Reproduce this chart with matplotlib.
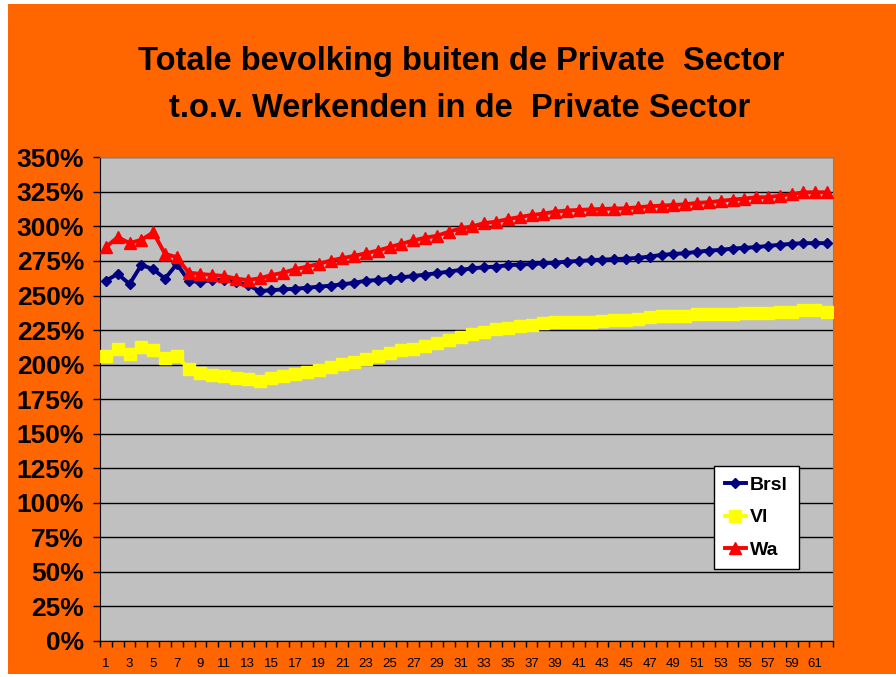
import matplotlib.pyplot as plt
from matplotlib.patches import Rectangle

# data (percent)
periods = list(range(1, 63))
brsl = [260.7, 265.6, 258.3, 272.1, 269.0, 262.2, 272.8, 260.7, 259.7, 261.2,
        261.2, 259.7, 257.6, 253.2, 253.9, 254.4, 254.9, 255.6, 256.4, 257.1,
        258.1, 259.2, 260.7, 261.2, 262.2, 263.1, 264.1, 265.1, 266.1, 267.3,
        268.5, 269.7, 270.4, 270.9, 271.9, 272.4, 272.8, 273.3, 273.8, 274.5,
        275.0, 275.5, 276.0, 276.3, 276.7, 277.2, 278.2, 279.4, 280.1, 280.6,
        281.6, 282.5, 283.0, 284.0, 284.5, 285.0, 285.9, 286.7, 287.4, 287.9,
        287.9, 287.9]
vl = [205.9, 211.5, 207.9, 212.7, 210.3, 204.9, 206.4, 196.9, 193.8, 192.6,
      191.6, 190.6, 189.4, 188.4, 190.6, 191.8, 193.1, 194.3, 196.2, 198.2,
      200.6, 201.8, 204.0, 205.9, 208.3, 210.3, 211.5, 213.7, 215.6, 217.5,
      220.0, 222.4, 223.4, 225.8, 226.8, 227.7, 228.7, 230.2, 231.1, 231.1,
      231.1, 231.1, 231.6, 232.1, 232.6, 233.1, 234.5, 235.5, 235.5, 235.5,
      236.5, 236.5, 236.5, 236.5, 237.4, 237.4, 237.4, 238.4, 238.4, 239.4,
      239.4, 238.4]
wa = [285.0, 292.2, 287.9, 290.3, 295.6, 280.1, 277.7, 266.5, 265.6, 264.8,
      264.1, 262.2, 261.2, 262.4, 264.8, 266.5, 269.0, 270.9, 272.8, 275.3,
      277.0, 278.7, 280.6, 282.5, 285.0, 287.4, 289.8, 291.8, 293.2, 296.1,
      298.5, 300.0, 302.4, 303.4, 305.3, 306.8, 308.2, 309.2, 310.7, 311.5,
      311.9, 312.3, 312.6, 312.9, 313.1, 313.8, 314.6, 315.0, 315.5, 316.0,
      317.0, 317.5, 318.4, 319.4, 320.1, 321.1, 321.1, 322.3, 323.3, 324.7,
      324.7, 324.7]
y_ticks = list(range(0, 351, 25))
x_labels = periods[::2]
title_lines = ['Totale bevolking buiten de Private  Sector',
               't.o.v. Werkenden in de  Private Sector']

font = ['Liberation Sans', 'DejaVu Sans']
W, H = 896, 677

fig = plt.figure(figsize=(W / 100, H / 100), dpi=100, facecolor='white')
fig.patches.append(Rectangle((8 / W, 3 / H), 1, 1 - 7 / H, transform=fig.transFigure,
                             facecolor='#FF6600', edgecolor='none', zorder=-10))

ax = fig.add_axes([100 / W, 36 / H, 733 / W, 483.7 / H])
ax.set_facecolor('#C0C0C0')

ax.plot(periods, brsl, color='#000080', lw=2.8, marker='D', ms=5.5, label='Brsl', zorder=3)
ax.plot(periods, vl, color='#FFFF00', lw=2.8, marker='s', ms=8, label='Vl', zorder=3)
ax.plot(periods, wa, color='#FF0000', lw=2.8, marker='^', ms=8.5, label='Wa', zorder=3)

ax.set_xlim(0.5, 62.5)
ax.set_ylim(0, 350)
ax.set_yticks(y_ticks)
ax.set_yticklabels([f'{v}%' for v in y_ticks], fontfamily=font,
                   fontweight='bold', fontsize=19)
ax.yaxis.grid(True, color='black', lw=1)
ax.set_axisbelow(True)

ax.set_xticks([p - 0.5 for p in periods] + [62.5])
ax.set_xticklabels([])
ax.set_xticks(x_labels, minor=True)
ax.set_xticklabels([str(v) for v in x_labels], minor=True, fontfamily=font, fontsize=9.5)
ax.tick_params(axis='x', which='major', direction='out', length=4, width=1, color='black')
ax.tick_params(axis='x', which='minor', length=0, pad=12)
ax.tick_params(axis='y', direction='out', length=5, width=1, color='black', pad=6.5)

for side in ['top', 'right']:
    ax.spines[side].set_color('#808080')
for side in ['left', 'bottom']:
    ax.spines[side].set_color('black')

leg = ax.legend(loc='upper left', bbox_to_anchor=(0.8377, 0.362), borderaxespad=0,
                frameon=True, fancybox=False, framealpha=1, numpoints=1,
                handlelength=1.1, handletextpad=0.2, borderpad=0.55, labelspacing=0.75,
                prop={'family': 'Liberation Sans', 'weight': 'bold', 'size': 14})
leg.get_frame().set_edgecolor('black')
leg.get_frame().set_linewidth(1)

fig.text(461 / W, 1 - 70 / H, title_lines[0], ha='center', va='baseline',
         fontfamily=font, fontweight='bold', fontsize=23.5)
fig.text(460 / W, 1 - 117 / H, title_lines[1], ha='center', va='baseline',
         fontfamily=font, fontweight='bold', fontsize=23.5)

fig.savefig('out.png', dpi=100, facecolor=fig.get_facecolor())
